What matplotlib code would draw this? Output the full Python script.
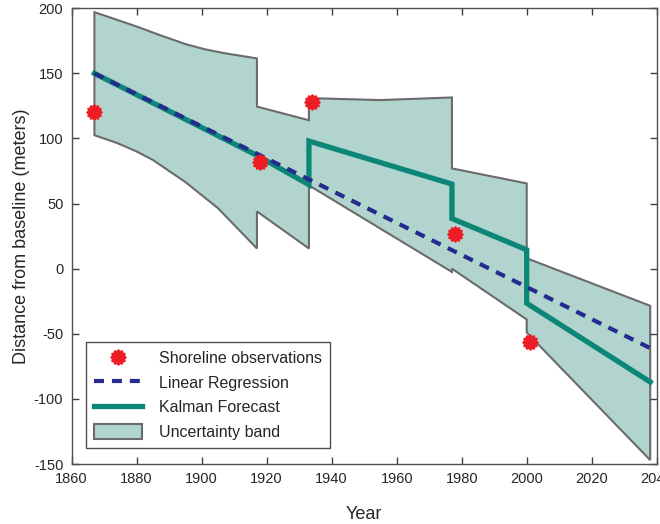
import numpy as np
import matplotlib
matplotlib.use("Agg")
import matplotlib.pyplot as plt
from matplotlib.path import Path
from matplotlib.patches import Patch
from matplotlib.lines import Line2D

plt.rcParams['font.family'] = ['Liberation Sans', 'DejaVu Sans']
plt.rcParams['axes.unicode_minus'] = False

# shoreline observations
obs_year = [1867, 1918, 1934, 1978, 2001]
obs_dist = [120, 82, 128, 27, -56]

# linear regression end points
reg_year = [1867, 2038]
reg_dist = [150, -61]

# kalman forecast
kal_year = [1867, 1917, 1933, 1933, 1977, 1977, 2000, 2000, 2038]
kal_dist = [150, 87, 64.5, 98, 65, 38.5, 14.5, -26.5, -87]

# uncertainty band edges
up_year = [1867, 1880, 1887, 1895, 1901, 1907, 1917, 1917, 1933, 1933, 1955, 1977, 1977, 2000, 2000, 2038]
up_dist = [197, 186, 179.5, 172.5, 168.5, 165.5, 161.5, 124.5, 114, 131, 129.5, 131.5, 77, 65.5, 8, -28.5]
lo_year = [1867, 1874, 1880, 1885, 1895, 1905, 1917, 1917, 1933, 1933, 1977, 1977, 2000, 2000, 2038]
lo_dist = [102.5, 96.5, 90, 83.5, 66.5, 46.5, 15.5, 44, 15.5, 64, -2.5, 0, -39, -49, -147]

x_ticks = [1860, 1880, 1900, 1920, 1940, 1960, 1980, 2000, 2020, 2040]
y_ticks = [-150, -100, -50, 0, 50, 100, 150, 200]

band_col = '#b2d4cf'
edge_col = '#6b6b6b'
kal_col = '#0c8676'
reg_col = '#262a8c'
obs_col = '#ee1c25'

star = Path.unit_regular_star(12, innerCircle=0.8)

fig = plt.figure(figsize=(6.6, 5.24), dpi=100)
ax = fig.add_axes([0.1086, 0.1145, 0.8864, 0.8697])

band_x = up_year + lo_year[::-1]
band_y = up_dist + lo_dist[::-1]
ax.fill(band_x, band_y, facecolor=band_col, edgecolor=edge_col, linewidth=1.5, zorder=1)

ax.plot(kal_year, kal_dist, color=kal_col, linewidth=3.8, solid_joinstyle='miter', zorder=2)
ax.plot(reg_year, reg_dist, color=reg_col, linewidth=3, dashes=(2.4, 1.9), zorder=3)
ax.plot(obs_year, obs_dist, linestyle='none', marker=star, markersize=11,
        color=obs_col, markeredgecolor=obs_col, zorder=4)

ax.set_xlim(1860, 2040)
ax.set_ylim(-150, 200)
ax.set_xticks(x_ticks)
ax.set_yticks(y_ticks)
ax.tick_params(direction='in', length=5, width=1, colors='#404040', labelcolor='#262626',
               labelsize=10.5, top=True, right=True, pad=6)
for s in ax.spines.values():
    s.set_color('#505050')
    s.set_linewidth(1)

ax.set_xlabel('Year', fontsize=13, color='#262626', labelpad=14)
ax.set_ylabel('Distance from baseline (meters)', fontsize=13, color='#262626', labelpad=3)

handles = [
    Line2D([], [], linestyle='none', marker=star, markersize=11, color=obs_col),
    Line2D([], [], color=reg_col, linewidth=3, dashes=(2.4, 1.9)),
    Line2D([], [], color=kal_col, linewidth=3.8),
    Patch(facecolor=band_col, edgecolor=edge_col, linewidth=1.5),
]
labels = ['Shoreline observations', 'Linear Regression', 'Kalman Forecast', 'Uncertainty band']
leg = ax.legend(handles, labels, loc='lower left', bbox_to_anchor=(0.024, 0.035),
                borderaxespad=0, fontsize=11.5, handlelength=3.0, handleheight=1.05,
                labelspacing=0.55, handletextpad=1.1, fancybox=False, framealpha=1,
                edgecolor='#505050', borderpad=0.5)
leg.get_frame().set_linewidth(1)
for t in leg.get_texts():
    t.set_color('#262626')

fig.savefig('out.png', dpi=100)
